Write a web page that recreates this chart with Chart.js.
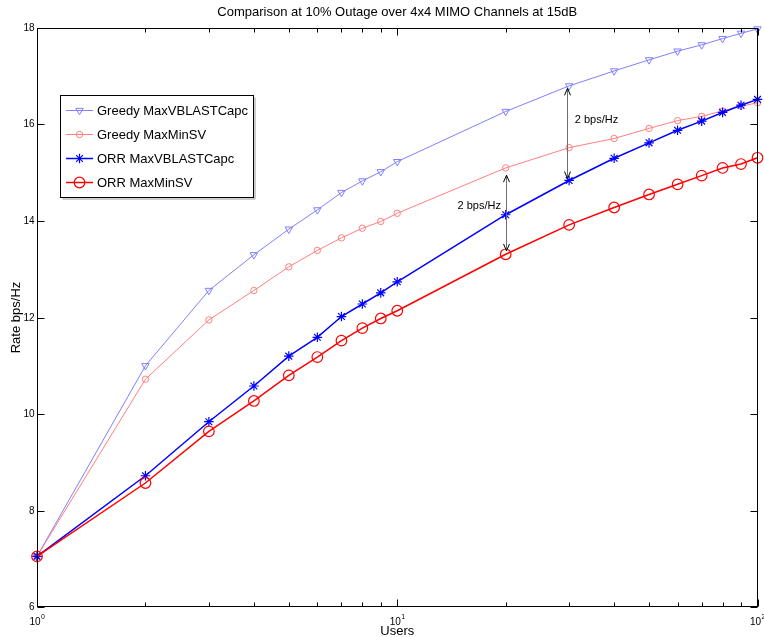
<!DOCTYPE html>
<html>
<head>
<meta charset="utf-8">
<title>Comparison at 10% Outage over 4x4 MIMO Channels at 15dB</title>
<script src="https://cdn.jsdelivr.net/npm/chart.js@4/dist/chart.umd.min.js"></script>
<style>
  html, body { margin: 0; padding: 0; background: #fff; }
  #wrap { width: 764px; height: 637px; }
</style>
</head>
<body>
<div id="wrap"><canvas id="c" width="764" height="637"></canvas></div>
<script>
// Number of users (log axis) and achievable rate (bps/Hz) for each scheduler
const users = [1, 2, 3, 4, 5, 6, 7, 8, 9, 10, 20, 30, 40, 50, 60, 70, 80, 90, 100];
const greedyMaxVBLAST = [7.05, 11.00, 12.56, 13.30, 13.83, 14.23, 14.59, 14.83, 15.02, 15.23, 16.27, 16.80, 17.11, 17.34, 17.52, 17.65, 17.78, 17.89, 17.98];
const greedyMaxMinSV  = [7.05, 10.72, 11.95, 12.56, 13.05, 13.39, 13.65, 13.85, 13.99, 14.16, 15.10, 15.52, 15.71, 15.92, 16.08, 16.17, 16.28, 16.38, 16.45];
const orrMaxVBLAST    = [7.05, 8.72, 9.84, 10.58, 11.20, 11.59, 12.02, 12.28, 12.51, 12.74, 14.13, 14.84, 15.30, 15.62, 15.88, 16.07, 16.25, 16.40, 16.52];
const orrMaxMinSV     = [7.05, 8.57, 9.64, 10.27, 10.80, 11.18, 11.52, 11.78, 11.98, 12.14, 13.31, 13.92, 14.28, 14.55, 14.76, 14.94, 15.10, 15.18, 15.31];

const seriesLabels = ['Greedy MaxVBLASTCapc', 'Greedy MaxMinSV', 'ORR MaxVBLASTCapc', 'ORR MaxMinSV'];
const yTickValues = [6, 8, 10, 12, 14, 16, 18];
const xDecades = [1, 10, 100];
const xDecadeExponents = ['0', '1', '2'];

// Gap annotations (data units): double-headed arrows and their labels
const gapArrows = [
  { x: 20, from: 13.38, to: 14.95 },
  { x: 29.5, from: 14.88, to: 16.75 }
];
const gapLabels = [
  { x: 19.4, y: 14.32, text: '2 bps/Hz', align: 'right' },
  { x: 31.1, y: 16.10, text: '2 bps/Hz', align: 'left' }
];

const FONT = '"Liberation Sans", Arial, Helvetica, sans-serif';

function pts(vals) { return users.map((u, i) => ({ x: u, y: vals[i] })); }

const styles = [
  { color: '#7f7fff', width: 1, style: 'triangle', rotation: 180, radius: 4.3, pw: 1 },
  { color: '#ff7f7f', width: 1, style: 'circle', rotation: 0, radius: 3.2, pw: 1 },
  { color: '#0000ff', width: 1.5, style: 'star', rotation: 0, radius: 4.8, pw: 1.2 },
  { color: '#ff0000', width: 1.5, style: 'circle', rotation: 0, radius: 5.3, pw: 1.2 }
];
const seriesValues = [greedyMaxVBLAST, greedyMaxMinSV, orrMaxVBLAST, orrMaxMinSV];

const datasets = seriesValues.map((vals, i) => ({
  label: seriesLabels[i],
  data: pts(vals),
  borderColor: styles[i].color,
  borderWidth: styles[i].width,
  backgroundColor: 'rgba(0,0,0,0)',
  pointStyle: styles[i].style,
  pointRotation: styles[i].rotation,
  pointRadius: styles[i].radius,
  pointBorderColor: styles[i].color,
  pointBackgroundColor: 'rgba(0,0,0,0)',
  pointBorderWidth: styles[i].pw,
  pointHoverRadius: styles[i].radius,
  tension: 0,
  fill: false,
  clip: false,
  order: 4 - i
}));

function drawMarker(ctx, style, rotation, r, x, y) {
  ctx.beginPath();
  if (style === 'circle') {
    ctx.arc(x, y, r, 0, Math.PI * 2);
  } else if (style === 'triangle') {
    const rot = rotation * Math.PI / 180;
    for (let k = 0; k < 3; k++) {
      const a = rot + k * 2 * Math.PI / 3;
      const px = x + Math.sin(a) * r, py = y - Math.cos(a) * r;
      if (k === 0) ctx.moveTo(px, py); else ctx.lineTo(px, py);
    }
    ctx.closePath();
  } else if (style === 'star') {
    for (let k = 0; k < 4; k++) {
      const a = k * Math.PI / 4;
      ctx.moveTo(x - Math.cos(a) * r, y - Math.sin(a) * r);
      ctx.lineTo(x + Math.cos(a) * r, y + Math.sin(a) * r);
    }
  }
  ctx.stroke();
}

function arrowHead(ctx, x, y, dir) {
  // dir = -1 points up, +1 points down
  ctx.beginPath();
  ctx.moveTo(x - 3, y - dir * 7);
  ctx.lineTo(x, y);
  ctx.lineTo(x + 3, y - dir * 7);
  ctx.stroke();
}

const axesPlugin = {
  id: 'matlabAxes',
  afterDraw(chart) {
    const ctx = chart.ctx;
    const a = chart.chartArea;
    const xs = chart.scales.x, ys = chart.scales.y;
    const L = Math.round(a.left) + 0.5, R = Math.round(a.right) - 0.5;
    const T = Math.round(a.top) + 0.5, B = Math.round(a.bottom) - 0.5;
    ctx.save();

    // gap annotations
    ctx.lineWidth = 1;
    gapArrows.forEach(g => {
      const px = Math.round(xs.getPixelForValue(g.x)) + 0.5;
      const p1 = ys.getPixelForValue(g.from), p2 = ys.getPixelForValue(g.to);
      ctx.strokeStyle = '#6e6e6e';
      ctx.beginPath(); ctx.moveTo(px, p1); ctx.lineTo(px, p2); ctx.stroke();
      ctx.strokeStyle = '#000';
      arrowHead(ctx, px, p1, 1);
      arrowHead(ctx, px, p2, -1);
    });
    ctx.fillStyle = '#000';
    ctx.font = '11px ' + FONT;
    ctx.textBaseline = 'middle';
    gapLabels.forEach(g => {
      ctx.textAlign = g.align;
      ctx.fillText(g.text, xs.getPixelForValue(g.x), ys.getPixelForValue(g.y));
    });

    // frame
    ctx.strokeStyle = '#000';
    ctx.lineWidth = 1;
    ctx.strokeRect(L, T, R - L, B - T);

    // y ticks (left labelled, right mirrored)
    ctx.font = '10px ' + FONT;
    ctx.textAlign = 'right';
    ctx.textBaseline = 'middle';
    yTickValues.forEach(v => {
      const py = Math.round(ys.getPixelForValue(v)) + 0.5;
      ctx.beginPath();
      ctx.moveTo(L, py); ctx.lineTo(L + 7, py);
      ctx.moveTo(R, py); ctx.lineTo(R - 7, py);
      ctx.stroke();
      ctx.fillText(String(v), L - 3, py);
    });

    // x ticks, logarithmic: major at decades, minor between
    xDecades.forEach((d, i) => {
      const px = Math.round(xs.getPixelForValue(d)) + 0.5;
      ctx.beginPath();
      ctx.moveTo(px, B); ctx.lineTo(px, B - 7);
      ctx.moveTo(px, T); ctx.lineTo(px, T + 7);
      ctx.stroke();
      if (i < xDecades.length - 1) {
        for (let m = 2; m <= 9; m++) {
          const mx = Math.round(xs.getPixelForValue(m * d)) + 0.5;
          ctx.beginPath();
          ctx.moveTo(mx, B); ctx.lineTo(mx, B - 4);
          ctx.moveTo(mx, T); ctx.lineTo(mx, T + 4);
          ctx.stroke();
        }
      }
      // label 10^k
      ctx.font = '10px ' + FONT;
      const baseW = ctx.measureText('10').width;
      ctx.font = '7px ' + FONT;
      const expW = ctx.measureText(xDecadeExponents[i]).width;
      const x0 = xs.getPixelForValue(d) - (baseW + expW) / 2;
      ctx.textAlign = 'left';
      ctx.textBaseline = 'alphabetic';
      ctx.font = '10px ' + FONT;
      ctx.fillText('10', x0, B + 18);
      ctx.font = '7px ' + FONT;
      ctx.fillText(xDecadeExponents[i], x0 + baseW + 0.5, B + 12);
    });

    // axis titles and chart title
    ctx.font = '13px ' + FONT;
    ctx.textAlign = 'center';
    ctx.textBaseline = 'middle';
    ctx.fillText('Users', (a.left + a.right) / 2, 631);
    ctx.save();
    ctx.translate(16, (a.top + a.bottom) / 2);
    ctx.rotate(-Math.PI / 2);
    ctx.fillText('Rate bps/Hz', 0, 0);
    ctx.restore();
    ctx.font = '13px ' + FONT;
    ctx.fillText('Comparison at 10% Outage over 4x4 MIMO Channels at 15dB', (a.left + a.right) / 2, 12);

    // legend box
    const bx = 60.5, by = 95.5, bw = 193, bh = 102;
    ctx.fillStyle = '#fff';
    ctx.fillRect(bx, by, bw, bh);
    ctx.strokeStyle = '#000';
    ctx.strokeRect(bx, by, bw, bh);
    ctx.strokeStyle = '#9a9a9a';
    ctx.beginPath(); ctx.moveTo(bx + bw + 1.5, by + 2); ctx.lineTo(bx + bw + 1.5, by + bh + 1.5); ctx.lineTo(bx + 2, by + bh + 1.5); ctx.stroke();
    ctx.font = '13px ' + FONT;
    ctx.textAlign = 'left';
    ctx.textBaseline = 'middle';
    chart.data.datasets.forEach((ds, i) => {
      const ry = 110.5 + i * 24;
      ctx.strokeStyle = ds.borderColor;
      ctx.lineWidth = ds.borderWidth;
      ctx.beginPath(); ctx.moveTo(66, ry); ctx.lineTo(93, ry); ctx.stroke();
      ctx.lineWidth = ds.pointBorderWidth;
      drawMarker(ctx, ds.pointStyle, ds.pointRotation, ds.pointRadius, 79.5, ry);
      ctx.fillStyle = '#000';
      ctx.fillText(ds.label, 97, ry + 0.5);
    });
    ctx.restore();
  }
};

new Chart(document.getElementById('c'), {
  type: 'line',
  data: { datasets },
  options: {
    responsive: false,
    devicePixelRatio: 1,
    animation: false,
    layout: { padding: { left: 37, right: 4, top: 28, bottom: 30 } },
    plugins: { legend: { display: false }, tooltip: { enabled: false }, title: { display: false } },
    scales: {
      x: { type: 'logarithmic', min: 1, max: 100, display: false },
      y: { type: 'linear', min: 6, max: 18, display: false }
    }
  },
  plugins: [axesPlugin]
});
</script>
</body>
</html>
